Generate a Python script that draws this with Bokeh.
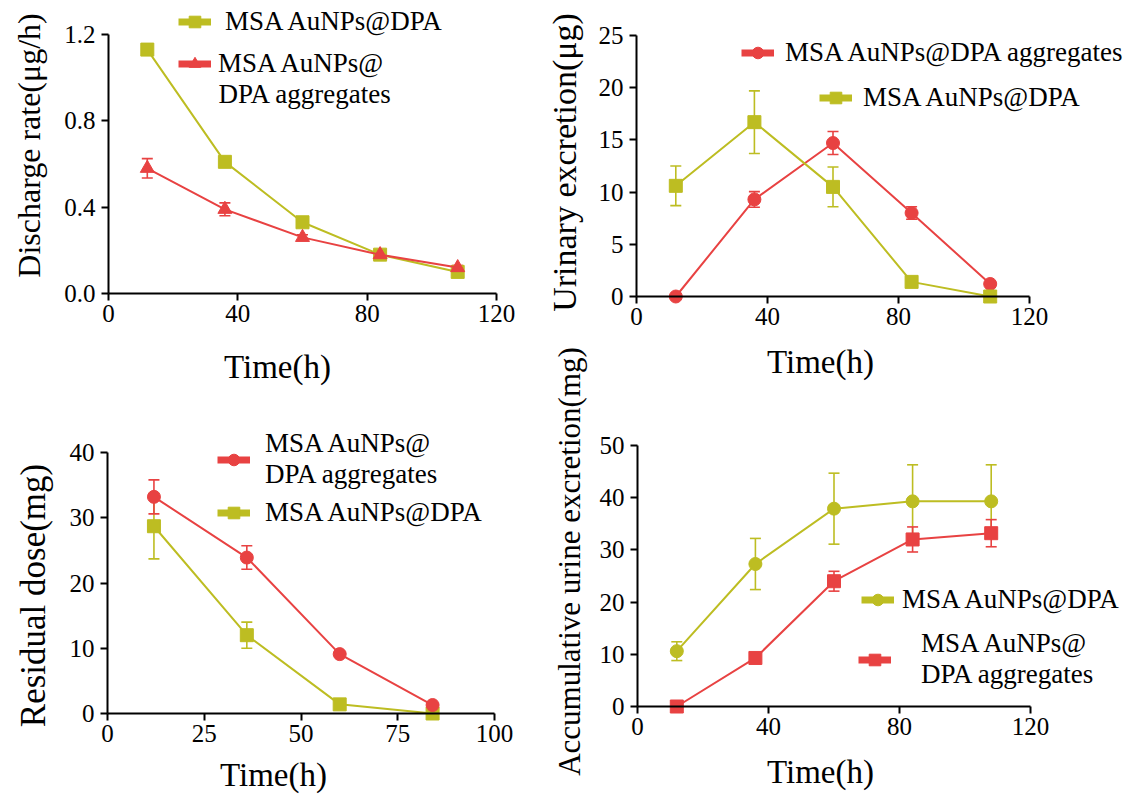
import numpy as np
from bokeh.plotting import figure
from bokeh.models import (Range1d, FixedTicker, NumeralTickFormatter, Whisker, TeeHead,
                          ColumnDataSource, Legend, LegendItem, Label, LinearAxis)
from bokeh.embed import file_html
from bokeh.resources import INLINE

FONT = "Liberation Serif"
YELLOW = "#BDBD22"
RED = "#E84242"
W, H = 1139, 798

# ---------------- data ----------------
time_h = [12, 36, 60, 84, 108]
time_h_res = [12, 36, 60, 84]

# (a) discharge rate (ug/h)
rate_dpa = [1.13, 0.61, 0.33, 0.18, 0.10]
rate_dpa_err = [0.02, 0.015, 0.01, 0.01, 0.01]
rate_agg = [0.58, 0.39, 0.26, 0.18, 0.12]
rate_agg_err = [0.045, 0.03, 0.012, 0.01, 0.01]

# (b) urinary excretion (ug)
urin_dpa = [10.6, 16.7, 10.5, 1.4, 0.0]
urin_dpa_err = [1.9, 3.0, 1.9, 0.3, 0.0]
urin_agg = [0.0, 9.3, 14.7, 8.0, 1.2]
urin_agg_err = [0.0, 0.75, 1.1, 0.6, 0.2]

# (c) residual dose (mg)
res_agg = [33.2, 23.9, 9.1, 1.3]
res_agg_err = [2.6, 1.8, 0.4, 0.3]
res_dpa = [28.7, 12.0, 1.4, 0.0]
res_dpa_err = [5.0, 2.0, 0.2, 0.0]

# (d) accumulative urine excretion (mg)
acc_dpa = [10.6, 27.3, 37.9, 39.3, 39.3]
acc_dpa_err = [1.8, 4.9, 6.8, 7.0, 7.0]
acc_agg = [0.0, 9.3, 24.0, 32.0, 33.2]
acc_agg_err = [0.0, 0.4, 1.9, 2.4, 2.6]

label_dpa = "MSA AuNPs@DPA"
label_agg_one = "MSA AuNPs@DPA aggregates"
label_agg_two = "MSA AuNPs@\nDPA aggregates"
x_title = "Time(h)"

# One canvas; each panel gets its own pair of ranges and fixed-location axes.
p = figure(width=W, height=H, x_range=Range1d(0, W), y_range=Range1d(H, 0),
           x_axis_type=None, y_axis_type=None, title=None,
           output_backend="svg", toolbar_location=None, min_border=0)
p.outline_line_color = None


def span_range(d0, d1, p0, p1, total):
    s = (d1 - d0) / (p1 - p0)
    return Range1d(d0 - p0 * s, d1 + (total - p1) * s)


def style_axis(ax):
    ax.axis_line_width = 2
    ax.axis_line_color = "black"
    ax.major_tick_line_width = 2
    ax.major_tick_line_color = "black"
    ax.major_tick_out = 7
    ax.major_tick_in = 0
    ax.minor_tick_line_color = None
    ax.major_label_text_font = FONT
    ax.major_label_text_font_size = "25px"
    ax.major_label_text_color = "black"


def make_panel(name, box, x_end, x_ticks, y_end, y_ticks, y_fmt=None):
    L, R, T, B = box
    xn, yn = "x" + name, "y" + name
    p.extra_x_ranges[xn] = span_range(0, x_end, L, R, W)
    p.extra_y_ranges[yn] = span_range(0, y_end, H - B, H - T, H)
    xa = LinearAxis(x_range_name=xn, y_range_name=yn, fixed_location=0, bounds=(0, x_end),
                    ticker=FixedTicker(ticks=x_ticks, minor_ticks=[]))
    ya = LinearAxis(x_range_name=xn, y_range_name=yn, fixed_location=0, bounds=(0, y_end),
                    ticker=FixedTicker(ticks=y_ticks, minor_ticks=[]))
    style_axis(xa)
    style_axis(ya)
    xa.major_label_standoff = 4
    ya.major_label_standoff = 6
    if y_fmt:
        ya.formatter = NumeralTickFormatter(format=y_fmt)
    p.add_layout(xa, "below")
    p.add_layout(ya, "left")
    return xn, yn


def add_series(rn, x, y, err, color, marker, size):
    xn, yn = rn
    y = np.array(y, dtype=float)
    e = np.array(err, dtype=float)
    src = ColumnDataSource(dict(x=x, y=y, lower=y - e, upper=y + e))
    w = Whisker(source=src, base="x", upper="upper", lower="lower",
                x_range_name=xn, y_range_name=yn,
                line_color=color, line_width=1.6,
                upper_head=TeeHead(size=11, line_color=color, line_width=1.6),
                lower_head=TeeHead(size=11, line_color=color, line_width=1.6))
    p.add_layout(w)
    p.line("x", "y", source=src, line_color=color, line_width=2,
           x_range_name=xn, y_range_name=yn)
    p.scatter("x", "y", source=src, marker=marker, size=size, fill_color=color,
              line_color=color, x_range_name=xn, y_range_name=yn)


def add_legend(color, marker, msize, label, x_left, y_bottom, standoff):
    # legend-only renderers: a single NaN point, so nothing shows in the plot area
    lr = p.line(x=[np.nan], y=[np.nan], line_color=color, line_width=7)
    ls = p.scatter(x=[np.nan], y=[np.nan], marker=marker, size=msize, fill_color=color,
                   line_color=color)
    leg = Legend(items=[LegendItem(label=label, renderers=[lr, ls])],
                 location=(x_left, H - y_bottom),
                 padding=0, margin=0, spacing=0, border_line_alpha=0, background_fill_alpha=0,
                 glyph_width=33, glyph_height=29, label_height=29, label_standoff=standoff,
                 label_text_font=FONT, label_text_font_size="27px", label_text_color="black")
    p.add_layout(leg)


def add_text(text, x, y, size, angle=0, align="center"):
    p.add_layout(Label(x=x, y=y, text=text, angle=angle, angle_units="deg",
                       text_align=align, text_baseline="middle",
                       text_font=FONT, text_font_size=size, text_color="black"))


# (a)
ra = make_panel("a", (108, 496, 34, 293), 120, [0, 40, 80, 120], 1.2, [0, 0.4, 0.8, 1.2], "0.0")
add_series(ra, time_h, rate_dpa, rate_dpa_err, YELLOW, "square", 13)
add_series(ra, time_h, rate_agg, rate_agg_err, RED, "triangle", 14)
add_legend(YELLOW, "square", 13, label_dpa, 178, 37, 14)
add_legend(RED, "triangle", 14, "MSA AuNPs@", 178, 79, 7)
add_text("DPA aggregates", 218, 93, "27px", align="left")
add_text(x_title, 277, 366, "33px")
add_text("Discharge rate(μg/h)", 28, 145, "32px", angle=90)

# (b)
rb = make_panel("b", (636, 1029, 35, 296), 120, [0, 40, 80, 120], 25, [0, 5, 10, 15, 20, 25])
add_series(rb, time_h, urin_agg, urin_agg_err, RED, "circle", 13)
add_series(rb, time_h, urin_dpa, urin_dpa_err, YELLOW, "square", 13)
add_legend(RED, "circle", 13, label_agg_one, 741, 68, 11)
add_legend(YELLOW, "square", 13, label_dpa, 819, 113, 11)
add_text(x_title, 820, 361, "33px")
add_text("Urinary excretion(μg)", 564, 162, "34px", angle=90)

# (c)
rc = make_panel("c", (107, 494, 452, 713), 100, [0, 25, 50, 75, 100], 40, [0, 10, 20, 30, 40])
add_series(rc, time_h_res, res_dpa, res_dpa_err, YELLOW, "square", 13)
add_series(rc, time_h_res, res_agg, res_agg_err, RED, "circle", 13)
add_legend(RED, "circle", 13, label_agg_two, 217, 490, 15)
add_legend(YELLOW, "square", 13, label_dpa, 217, 528, 15)
add_text(x_title, 273, 774, "33px")
add_text("Residual dose(mg)", 33, 595, "35px", angle=90)

# (d)
rd = make_panel("d", (637, 1030, 445, 706), 120, [0, 40, 80, 120], 50, [0, 10, 20, 30, 40, 50])
add_series(rd, time_h, acc_dpa, acc_dpa_err, YELLOW, "circle", 13)
add_series(rd, time_h, acc_agg, acc_agg_err, RED, "square", 13)
add_legend(YELLOW, "circle", 13, label_dpa, 861, 615, 8)
add_legend(RED, "square", 13, label_agg_two, 858, 690, 30)
add_text(x_title, 820, 771, "33px")
add_text("Accumulative urine excretion(mg)", 569, 561, "31px", angle=90)

open("out.html", "w").write(file_html(p, INLINE))
